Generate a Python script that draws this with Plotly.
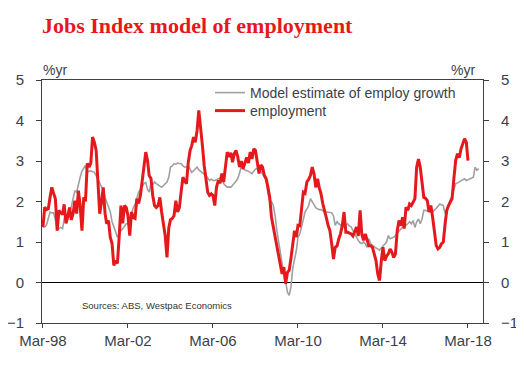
import pandas as pd
import plotly.graph_objects as go

# ---------------- data (monthly, % yr) ----------------
start_month = "1998-03-01"

employment = [
    1.37, 1.86, 1.80, 1.82, 2.10, 2.35, 2.20, 2.07, 1.28, 1.78, 1.72, 1.68,
    1.93, 1.46, 1.62, 1.85, 1.55, 1.70, 2.02, 1.70, 2.27, 1.90, 1.28, 2.10,
    2.00, 2.94, 2.85, 2.95, 3.59, 3.46, 3.26, 2.35, 1.70, 1.98, 2.35, 1.70,
    1.45, 1.53, 1.12, 0.96, 0.42, 0.54, 0.47, 1.12, 1.90, 1.46, 1.90, 1.85,
    1.65, 1.16, 1.74, 1.60, 1.58, 2.07, 1.95, 2.15, 2.57, 2.81, 3.22, 3.01,
    2.64, 2.57, 2.15, 1.90, 1.85, 1.90, 2.10, 1.74, 1.49, 1.16, 0.62, 1.35,
    1.55, 1.58, 1.65, 2.02, 1.74, 1.85, 2.25, 2.60, 2.50, 2.44, 2.97, 3.26,
    3.38, 3.59, 3.46, 3.75, 4.25, 3.88, 3.38, 2.89, 2.48, 2.23, 2.15, 2.19,
    2.15, 1.90, 2.35, 2.52, 2.45, 2.69, 2.48, 2.94, 3.22, 3.10, 3.20, 2.97,
    3.18, 3.26, 3.10, 2.85, 3.00, 2.81, 2.95, 3.09, 2.95, 3.22, 3.05, 3.30,
    3.26, 2.94, 2.69, 2.90, 2.85, 2.64, 2.56, 2.35, 2.10, 1.61, 1.37, 1.20,
    0.95, 0.71, 0.46, 0.21, 0.38, -0.03, 0.25, 0.30, 0.60, 1.00, 1.28, 1.12,
    1.41, 1.40, 1.86, 2.23, 2.20, 2.48, 2.55, 2.64, 2.85, 2.69, 2.35, 2.56,
    2.35, 2.19, 1.95, 1.80, 1.60, 1.41, 1.28, 0.96, 0.58, 0.87, 0.90, 1.08,
    1.20, 1.41, 1.74, 1.24, 1.24, 1.22, 1.20, 1.15, 1.25, 1.37, 1.15, 1.78,
    1.20, 1.04, 1.20, 1.04, 0.91, 0.91, 0.87, 0.71, 0.54, 0.21, 0.05, 0.54,
    0.87, 0.54, 0.65, 0.71, 0.83, 0.75, 0.62, 0.70, 1.28, 1.53, 1.40, 1.61,
    1.33, 1.86, 1.78, 1.94, 1.90, 1.98, 2.07, 2.85, 3.05, 2.85, 2.48, 2.10,
    2.08, 2.02, 1.74, 1.90, 1.61, 1.28, 0.91, 0.83, 0.87, 0.96, 1.00, 1.45,
    1.78, 1.90, 1.98, 2.07, 2.56, 3.01, 3.18, 3.08, 3.30, 3.42, 3.55, 3.46,
    3.01,
]

model_estimate = [
    1.37, 1.37, 1.42, 1.61, 1.74, 1.72, 1.72, 1.55, 1.30, 1.33, 1.36, 1.33,
    1.57, 1.55, 1.60, 1.72, 1.86, 2.07, 2.27, 2.23, 2.44, 2.60, 2.75, 2.81,
    2.89, 2.72, 2.75, 2.75, 2.74, 2.72, 2.64, 2.55, 2.44, 2.35, 2.27, 2.10,
    1.98, 1.85, 1.75, 1.50, 1.40, 1.25, 1.12, 1.22, 1.28, 1.33, 1.40, 1.45,
    1.45, 1.50, 1.70, 1.85, 1.92, 2.10, 2.23, 2.30, 2.38, 2.44, 2.47, 2.30,
    2.23, 2.44, 2.42, 2.48, 2.44, 2.40, 2.38, 2.35, 2.40, 2.44, 2.48, 2.60,
    2.85, 2.88, 2.93, 2.92, 2.95, 2.94, 2.93, 2.88, 2.85, 2.86, 2.88, 2.80,
    2.72, 2.76, 2.80, 2.85, 2.78, 2.75, 2.72, 2.68, 2.64, 2.58, 2.52, 2.55,
    2.52, 2.52, 2.54, 2.55, 2.58, 2.60, 2.44, 2.40, 2.35, 2.36, 2.35, 2.40,
    2.44, 2.50, 2.56, 2.70, 2.85, 2.80, 2.77, 2.76, 2.75, 2.72, 2.69, 2.75,
    2.80, 2.82, 2.80, 2.75, 2.69, 2.60, 2.52, 2.20, 2.02, 2.00, 1.90, 1.65,
    1.30, 1.00, 0.70, 0.42, 0.20, 0.02, -0.24, -0.32, -0.10, 0.35, 0.55, 0.79,
    1.12, 1.20, 1.37, 1.55, 1.74, 1.82, 1.90, 2.07, 2.00, 1.90, 1.85, 1.82,
    1.80, 1.80, 1.77, 1.74, 1.74, 1.74, 1.73, 1.72, 1.65, 1.41, 1.50, 1.45,
    1.41, 1.39, 1.37, 1.42, 1.45, 1.40, 1.37, 1.28, 1.20, 1.10, 1.04, 0.98,
    0.96, 1.00, 0.95, 0.87, 1.08, 0.96, 0.92, 0.87, 0.85, 0.83, 0.80, 0.85,
    0.90, 0.95, 1.00, 1.16, 1.08, 1.10, 1.12, 1.16, 1.22, 1.28, 1.32, 1.36,
    1.38, 1.41, 1.45, 1.50, 1.45, 1.53, 1.36, 1.50, 1.57, 1.45, 1.57, 1.78,
    1.78, 1.76, 1.74, 1.74, 1.74, 1.78, 1.82, 1.88, 1.94, 1.92, 1.90, 1.70,
    1.82, 1.94, 2.05, 2.15, 2.30, 2.44, 2.46, 2.48, 2.50, 2.52, 2.56, 2.52,
    2.54, 2.56, 2.58, 2.60, 2.85, 2.77, 2.81,
]

tick_dates = ["1998-03-01", "2002-03-01", "2006-03-01", "2010-03-01",
              "2014-03-01", "2018-03-01"]
tick_labels = ["Mar-98", "Mar-02", "Mar-06", "Mar-10", "Mar-14", "Mar-18"]
y_ticks = [-1, 0, 1, 2, 3, 4, 5]

dates_emp = pd.date_range(start_month, periods=len(employment), freq="MS")
dates_mod = pd.date_range(start_month, periods=len(model_estimate), freq="MS")

# ---------------- figure ----------------
# page body has an 8px margin, so the figure is 8px smaller than the window
W, H = 516, 358
ML, MR, MT, MB = 34, 41, 72, 43
PW, PH = W - ML - MR, H - MT - MB

RED = "#e5191c"
GREY = "#a0a0a0"
AXIS = "#404040"
TXT = "#3a3f4a"
SANS = "Liberation Sans, Arial, sans-serif"

fig = go.Figure()
fig.add_trace(go.Scatter(x=dates_mod, y=model_estimate, mode="lines",
                         name="Model estimate of employ growth",
                         legend="legend", yaxis="y",
                         line=dict(color=GREY, width=1.6)))
fig.add_trace(go.Scatter(x=dates_emp, y=employment, mode="lines",
                         name="employment", legend="legend2", yaxis="y2",
                         line=dict(color=RED, width=3)))

axis_common = dict(range=[-1, 5], tickvals=y_ticks, ticks="outside", ticklen=5,
                   tickcolor=AXIS, showline=True, linecolor=AXIS, linewidth=1,
                   showgrid=False, tickfont=dict(family=SANS, size=15, color=TXT),
                   ticklabelstandoff=9, automargin=False, fixedrange=True)

legend_common = dict(xanchor="left", yanchor="middle",
                     bgcolor="rgba(0,0,0,0)",
                     font=dict(family=SANS, size=14, color=TXT),
                     itemwidth=30)

fig.update_layout(
    width=W, height=H,
    margin=dict(l=ML, r=MR, t=MT, b=MB, autoexpand=False),
    paper_bgcolor="white", plot_bgcolor="white",
    title=dict(text="<b>Jobs Index model of employment</b>",
               font=dict(family="Liberation Serif, Times New Roman, serif",
                         size=22, color=RED),
               x=ML / W, xanchor="left", xref="container",
               y=1 - 17 / H, yanchor="middle", yref="container"),
    xaxis=dict(type="date", range=["1998-02-13", "2018-11-14"],
               tickvals=tick_dates, ticktext=tick_labels,
               ticks="outside", ticklen=4, tickcolor=AXIS,
               showline=True, linecolor=AXIS, linewidth=1, mirror=True,
               showgrid=False, zeroline=False, automargin=False,
               tickfont=dict(family=SANS, size=15, color=TXT)),
    yaxis=dict(**axis_common, zeroline=True, zerolinecolor="black",
               zerolinewidth=1),
    yaxis2=dict(**axis_common, overlaying="y", side="right", zeroline=False),
    legend=dict(**legend_common, x=(210 - 42) / PW, y=1 - (93 - 80) / PH),
    legend2=dict(**legend_common, x=(210 - 42) / PW, y=1 - (111 - 80) / PH),
    showlegend=True,
)

fig.add_annotation(text="%yr", xref="paper", yref="paper", x=0.0, y=1.0,
                   xanchor="left", yanchor="bottom", showarrow=False,
                   font=dict(family=SANS, size=14, color=TXT), xshift=-1)
fig.add_annotation(text="%yr", xref="paper", yref="paper", x=1.0, y=1.0,
                   xanchor="right", yanchor="bottom", showarrow=False,
                   font=dict(family=SANS, size=14, color=TXT), xshift=-6)
fig.add_annotation(text="Sources: ABS, Westpac Economics", xref="paper",
                   yref="paper", x=(80 - 42) / PW, y=(323 - 305.5) / PH,
                   xanchor="left", yanchor="middle", showarrow=False,
                   font=dict(family=SANS, size=9.5, color="#333333"))

fig.write_html("out.html")
